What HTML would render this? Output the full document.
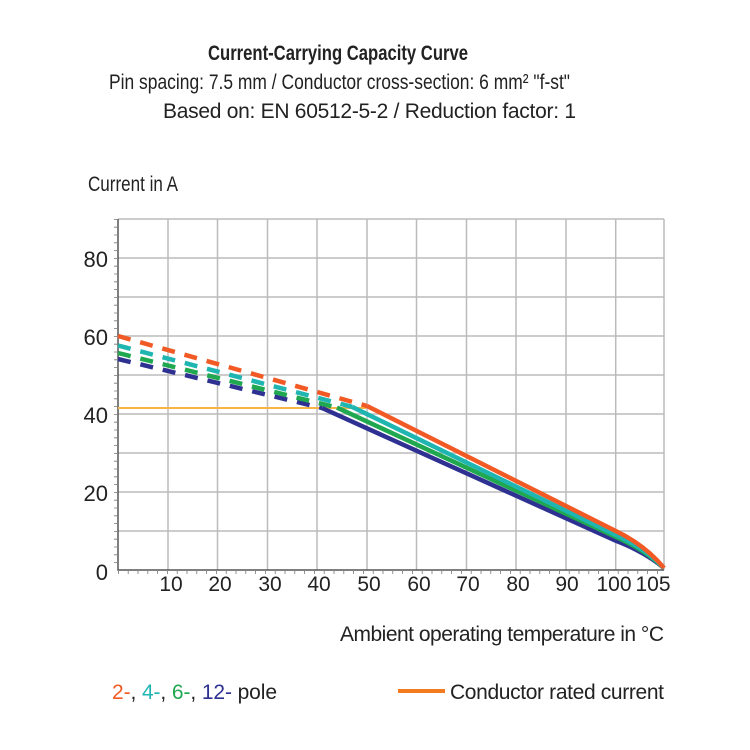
<!DOCTYPE html>
<html><head><meta charset="utf-8"><style>body{margin:0;background:#fff}svg{display:block}text{font-family:"Liberation Sans Narrow","Liberation Sans",sans-serif;fill:#222}</style></head><body>
<svg width="750" height="750" viewBox="0 0 750 750">
<text x="208" y="60" font-size="21" font-weight="bold" textLength="260" lengthAdjust="spacingAndGlyphs">Current-Carrying Capacity Curve</text>
<text x="109" y="89" font-size="21" textLength="461" lengthAdjust="spacingAndGlyphs">Pin spacing: 7.5 mm / Conductor cross-section: 6 mm² "f-st"</text>
<text x="163" y="118" font-size="21" textLength="413" lengthAdjust="spacing">Based on: EN 60512-5-2 / Reduction factor: 1</text>
<text x="88" y="191" font-size="21" textLength="90" lengthAdjust="spacingAndGlyphs">Current in A</text>
<g stroke="#bbb" stroke-width="1.5" fill="none">
<path d="M118 219H664M118 258H664M118 297H664M118 336H664M118 375H664M118 414H664M118 453H664M118 492H664M118 531H664"/>
<path d="M168 219V570M217.5 219V570M267.5 219V570M317 219V570M367 219V570M416.5 219V570M466.5 219V570M516 219V570M566 219V570M615.7 219V570M664 219V570"/>
</g>
<path d="M118 219V570H664" stroke="#555" stroke-width="1.5" fill="none"/>
<path d="M115.5 219V570" stroke="#777" stroke-width="3" stroke-dasharray="0.8 7" fill="none"/>
<path d="M118 572.5H664" stroke="#777" stroke-width="3" stroke-dasharray="0.8 9" fill="none"/>
<g font-size="22" text-anchor="end">
<text x="108" y="267">80</text><text x="108" y="345">60</text><text x="108" y="423">40</text><text x="108" y="501">20</text><text x="108" y="580">0</text>
</g>
<g font-size="21" text-anchor="middle">
<text x="171" y="591">10</text><text x="220" y="591">20</text><text x="270" y="591">30</text><text x="319" y="591">40</text><text x="369" y="591">50</text><text x="419" y="591">60</text><text x="468" y="591">70</text><text x="518" y="591">80</text><text x="567" y="591">90</text><text x="614" y="591">100</text><text x="653" y="591">105</text>
</g>
<path d="M118 408H366" stroke="#f7b447" stroke-width="2"/>
<g fill="none" stroke-width="4.5" stroke-linecap="butt">
<path d="M118 359L322 408" stroke="#2e3192" stroke-dasharray="13 10"/>
<path d="M118 353L337 407.6" stroke="#1fa84f" stroke-dasharray="13 10"/>
<path d="M118 345.5L352 406.8" stroke="#1fb5b0" stroke-dasharray="13 10"/>
<path d="M118 336L367 406" stroke="#f15a24" stroke-dasharray="13 10"/>
<path d="M322 408L615.7 540.7Q645 552 664 568" stroke="#2e3192"/>
<path d="M337 407.6L615.7 536.8Q645 550 664 568" stroke="#1fa84f"/>
<path d="M352 406.8L615.7 534.9Q645 548 664 568" stroke="#1fb5b0"/>
<path d="M367 406L615.7 531Q645 545 664 568" stroke="#f15a24"/>
</g>
<text x="340" y="641" font-size="21" textLength="324" lengthAdjust="spacing">Ambient operating temperature in °C</text>
<text x="112" y="699" font-size="21" textLength="165" lengthAdjust="spacing"><tspan fill="#f15a24">2-</tspan>, <tspan fill="#1fb5b0">4-</tspan>, <tspan fill="#1fa84f">6-</tspan>, <tspan fill="#2e3192">12-</tspan> pole</text>
<path d="M398 691H445" stroke="#f47a20" stroke-width="4"/>
<text x="450" y="699" font-size="21" textLength="214" lengthAdjust="spacing">Conductor rated current</text>
</svg>
</body></html>
